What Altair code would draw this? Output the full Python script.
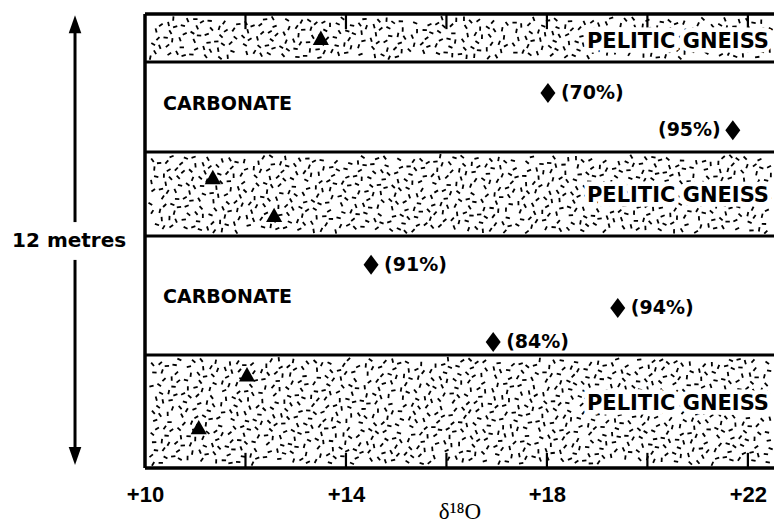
import altair as alt
import numpy as np
import pandas as pd

# ---------------- data ----------------
# x: delta 18O (per mil), y: height above base of the 12 m section (m)
X_MIN, X_MAX = 10.0, 22.52
SECTION = 12.0

band_names = ["PELITIC GNEISS", "CARBONATE", "PELITIC GNEISS", "CARBONATE", "PELITIC GNEISS"]
band_bottom = [0.0, 2.99, 6.13, 8.35, 10.73]
band_top = [2.99, 6.13, 8.35, 10.73, 12.0]
band_label_y = [1.69, 4.52, 7.20, 9.61, 11.25]

# pelitic gneiss samples (triangles)
gneiss_x = [13.50, 11.35, 12.57, 12.03, 11.07]
gneiss_y = [11.37, 7.69, 6.69, 2.48, 1.08]

# carbonate samples (diamonds) with carbonate percentage
carb_x = [18.02, 21.70, 14.50, 19.41, 16.93]
carb_y = [9.91, 8.93, 5.37, 4.23, 3.33]
carb_label = ["(70%)", "(95%)", "(91%)", "(94%)", "(84%)"]
carb_side = ["right", "left", "right", "right", "right"]

tick_values = [12, 14, 16, 18, 20, 22]
label_values = [10, 14, 18, 22]

# ---------------- tables ----------------
bands = pd.DataFrame({"name": band_names, "y0": band_bottom, "y1": band_top, "ly": band_label_y})
gneiss = pd.DataFrame({"x": gneiss_x, "y": gneiss_y})
carb = pd.DataFrame({"x": carb_x, "y": carb_y, "label": carb_label, "side": carb_side})
bounds = pd.DataFrame({"y": band_bottom[1:]})
frame_h = pd.DataFrame({"y": [0.0, SECTION]})
frame_v = pd.DataFrame({"x": [X_MIN], "y0": [0.0], "y1": [SECTION]})
ticks = pd.DataFrame({"x": tick_values})

# stipple texture for the pelitic gneiss bands: an isotropic quasi-regular
# (R2 low-discrepancy) dash pattern laid over a square and cut to each band
PX_X = 629 / (X_MAX - X_MIN)     # pixels per per-mil unit
PX_Y = 454 / SECTION             # pixels per metre
side = 629.0
g = 1.32471795724474602596
n_sq = int(side * side / 70)
k = np.arange(1, n_sq + 1)
u = ((0.5 + k / g) % 1.0) * side
v = ((0.5 + k / g ** 2) % 1.0) * side
w = (k.astype(float) ** 2 * 0.41421356237 + k * 0.7236) % 1.0
tex_rows = []
for i, r in bands[bands["name"] == "PELITIC GNEISS"].reset_index(drop=True).iterrows():
    h_px = (r.y1 - r.y0) * PX_Y
    off = i * 211.0
    vv = (v + off) % side
    keep = (vv > 4) & (vv < h_px - 4) & (u > 5) & (u < side - 3)
    tex_rows.append(pd.DataFrame({
        "x": X_MIN + u[keep] / PX_X,
        "y": r.y0 + vv[keep] / PX_Y,
        "a": w[keep] * 180.0,
    }))
texture = pd.concat(tex_rows, ignore_index=True)

# arrow for the 12 m scale bar
arrow_x = 8.607
arrow_seg = pd.DataFrame({"x": [arrow_x, arrow_x], "y0": [0.55, 6.5], "y1": [5.5, 11.5]})
arrow_up = pd.DataFrame({"x": [arrow_x], "y": [11.97]})
arrow_dn = pd.DataFrame({"x": [arrow_x], "y": [0.08]})
scale_lab = pd.DataFrame({"x": [8.49], "y": [6.0], "t": ["12 metres"]})

# ---------------- encodings ----------------
xscale = alt.Scale(domain=[X_MIN, X_MAX], nice=False, zero=False)
yscale = alt.Scale(domain=[0, SECTION], nice=False, zero=False)
xaxis = alt.Axis(
    values=label_values,
    labelExpr="'+' + datum.value",
    domain=False, ticks=False, tickSize=0, grid=False,
    labelFlush=False, labelOverlap=False,
    labelFont="Liberation Sans", labelFontWeight="bold", labelFontSize=22,
    labelColor="black", labelBaseline="alphabetic", labelPadding=33,
    title="δ¹⁸O", titleFont="Liberation Serif", titleFontSize=23,
    titleFontWeight="normal", titleColor="black",
    titleBaseline="alphabetic", titleY=50,
)


def X(f):
    return alt.X(f, type="quantitative", scale=xscale, axis=xaxis)


def Y(f):
    return alt.Y(f, type="quantitative", scale=yscale, axis=None)


layers = []

# texture
layers.append(
    alt.Chart(texture).mark_point(
        shape="M-1,0L1,0", size=19, filled=False, strokeWidth=1.8, color="black", opacity=1
    ).encode(x=X("x"), y=Y("y"), angle=alt.Angle("a:Q", scale=None))
)

# band boundaries
layers.append(
    alt.Chart(bounds).mark_rule(color="black", strokeWidth=3)
    .encode(x=alt.X(datum=X_MIN, scale=xscale, axis=xaxis), x2=alt.X2(datum=X_MAX), y=Y("y"))
)
# frame top / bottom
layers.append(
    alt.Chart(frame_h).mark_rule(color="black", strokeWidth=3.5)
    .encode(x=alt.X(datum=X_MIN, scale=xscale, axis=xaxis), x2=alt.X2(datum=X_MAX), y=Y("y"))
)
# frame left
layers.append(
    alt.Chart(frame_v).mark_rule(color="black", strokeWidth=3.5)
    .encode(x=X("x"), y=Y("y0"), y2="y1")
)
# inward ticks bottom and top
layers.append(
    alt.Chart(ticks).mark_rule(color="black", strokeWidth=2.2)
    .encode(x=X("x"), y=alt.Y(datum=0, scale=yscale, axis=None), y2=alt.Y2(datum=0.4))
)
layers.append(
    alt.Chart(ticks).mark_rule(color="black", strokeWidth=2.2)
    .encode(x=X("x"), y=alt.Y(datum=SECTION, scale=yscale, axis=None), y2=alt.Y2(datum=SECTION - 0.4))
)

# scale arrow
layers.append(
    alt.Chart(arrow_seg).mark_rule(color="black", strokeWidth=3)
    .encode(x=X("x"), y=Y("y0"), y2="y1")
)
layers.append(
    alt.Chart(arrow_up).mark_point(shape="M0,0L0.7,2L-0.7,2Z", size=324, filled=True,
                                   color="black", opacity=1, strokeWidth=0)
    .encode(x=X("x"), y=Y("y"))
)
layers.append(
    alt.Chart(arrow_dn).mark_point(shape="M0,0L0.7,-2L-0.7,-2Z", size=324, filled=True,
                                   color="black", opacity=1, strokeWidth=0)
    .encode(x=X("x"), y=Y("y"))
)
layers.append(
    alt.Chart(scale_lab).mark_text(font="DejaVu Sans", fontWeight="bold", fontSize=20,
                                   color="black", baseline="middle", align="center")
    .encode(x=X("x"), y=Y("y"), text="t:N")
)

# band labels (white halo then black text)
peli = bands[bands["name"] == "PELITIC GNEISS"].assign(x=22.42)
carbb = bands[bands["name"] == "CARBONATE"].assign(x=10.36)
for df, al, fs in [(peli, "right", 21), (carbb, "left", 19)]:
    layers.append(
        alt.Chart(df).mark_text(font="DejaVu Sans", fontWeight="bold", fontSize=fs, align=al,
                                baseline="middle", color="white", stroke="white", strokeWidth=9)
        .encode(x=X("x"), y=Y("ly"), text="name:N")
    )
    layers.append(
        alt.Chart(df).mark_text(font="DejaVu Sans", fontWeight="bold", fontSize=fs, align=al,
                                baseline="middle", color="black")
        .encode(x=X("x"), y=Y("ly"), text="name:N")
    )

# samples
layers.append(
    alt.Chart(gneiss).mark_point(shape="M0,-0.85L0.95,0.85L-0.95,0.85Z", size=289, filled=True,
                                 color="black", opacity=1, strokeWidth=0)
    .encode(x=X("x"), y=Y("y"))
)
layers.append(
    alt.Chart(carb).mark_point(shape="M0,-1L0.75,0L0,1L-0.75,0Z", size=400, filled=True,
                               color="black", opacity=1, strokeWidth=0)
    .encode(x=X("x"), y=Y("y"))
)
layers.append(
    alt.Chart(carb).transform_filter("datum.side == 'right'")
    .mark_text(font="DejaVu Sans", fontWeight="bold", fontSize=19, align="left",
               baseline="middle", dx=13, color="black")
    .encode(x=X("x"), y=Y("y"), text="label:N")
)
layers.append(
    alt.Chart(carb).transform_filter("datum.side == 'left'")
    .mark_text(font="DejaVu Sans", fontWeight="bold", fontSize=19, align="right",
               baseline="middle", dx=-12, color="black")
    .encode(x=X("x"), y=Y("y"), text="label:N")
)

chart = (
    alt.layer(*layers)
    .properties(
        width=629, height=454,
        autosize=alt.AutoSizeParams(type="none"),
        padding={"left": 145, "top": 14, "right": 0, "bottom": 54},
        background="white",
    )
    .configure_view(stroke=None)
)

chart.save("out.html", embed_options={"renderer": "svg", "actions": False})
